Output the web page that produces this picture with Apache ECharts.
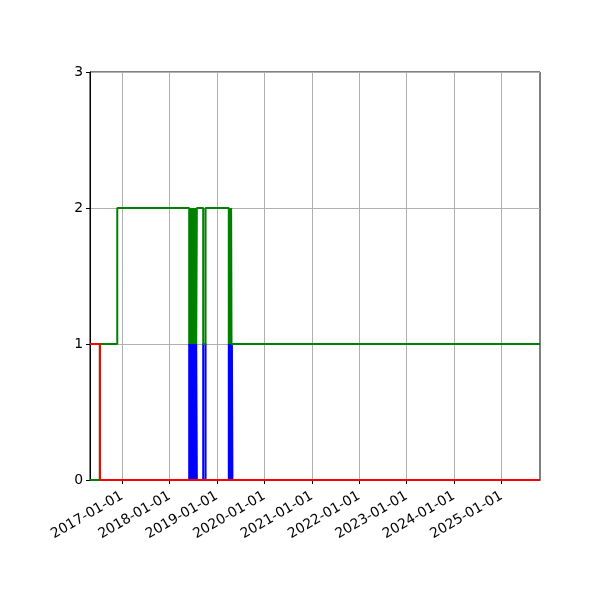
<!DOCTYPE html>
<html>
<head>
<meta charset="utf-8">
<script src="https://cdn.jsdelivr.net/npm/echarts@6/dist/echarts.min.js"></script>
<style>
  html, body { margin: 0; padding: 0; background: #fff; }
  #chart { width: 600px; height: 600px; }
</style>
</head>
<body>
<div id="chart"></div>
<script>
// x range and tick dates
const xStart = "2016-04-29";
const xEnd = "2025-10-25";
const tickDates = ["2017-01-01", "2018-01-01", "2019-01-01", "2020-01-01", "2021-01-01",
  "2022-01-01", "2023-01-01", "2024-01-01", "2025-01-01"];
const yTicks = [0, 1, 2, 3];

// step series: [date, value], value holds until next date
const redSteps = [
  ["2016-04-29", 1], ["2016-07-14", 0], ["2025-10-25", 0]
];
const blueSteps = [
  ["2016-04-29", 0],
  ["2018-06-02", 1], ["2018-06-05", 0], ["2018-06-08", 1], ["2018-06-11", 0],
  ["2018-06-14", 1], ["2018-06-17", 0], ["2018-06-20", 1], ["2018-06-23", 0],
  ["2018-06-26", 1], ["2018-06-29", 0], ["2018-07-02", 1], ["2018-07-05", 0],
  ["2018-07-08", 1], ["2018-07-11", 0], ["2018-07-14", 1], ["2018-07-17", 0],
  ["2018-07-20", 1], ["2018-07-23", 0], ["2018-07-26", 1], ["2018-07-31", 0],
  ["2018-09-18", 1], ["2018-10-06", 0],
  ["2019-04-03", 1], ["2019-04-07", 0], ["2019-04-11", 1], ["2019-04-15", 0],
  ["2019-04-19", 1], ["2019-04-23", 0], ["2019-04-27", 1], ["2019-05-01", 0],
  ["2025-10-25", 0]
];
const greenSteps = [
  ["2016-04-29", 0], ["2016-07-14", 1], ["2016-11-25", 2],
  ["2018-06-02", 1], ["2018-06-05", 2], ["2018-06-08", 1], ["2018-06-11", 2],
  ["2018-06-14", 1], ["2018-06-17", 2], ["2018-06-20", 1], ["2018-06-23", 2],
  ["2018-06-26", 1], ["2018-06-29", 2], ["2018-07-02", 1], ["2018-07-05", 2],
  ["2018-07-08", 1], ["2018-07-11", 2], ["2018-07-14", 1], ["2018-07-17", 2],
  ["2018-07-20", 1], ["2018-07-23", 2], ["2018-07-26", 1], ["2018-07-31", 2],
  ["2018-09-18", 1], ["2018-10-06", 2],
  ["2019-04-03", 1], ["2019-04-07", 2], ["2019-04-11", 1], ["2019-04-15", 2],
  ["2019-04-19", 1], ["2019-04-21", 2], ["2019-04-24", 1],
  ["2025-10-25", 1]
];

const ts = (d) => Date.parse(d + "T00:00:00Z");
const toData = (steps) => steps.map(([d, v]) => [ts(d), v]);

const pad = (n) => (n < 10 ? "0" : "") + n;
const fmtDate = (v) => {
  const d = new Date(v);
  return d.getUTCFullYear() + "-" + pad(d.getUTCMonth() + 1) + "-" + pad(d.getUTCDate());
};

const chart = echarts.init(document.getElementById("chart"), null, { renderer: "canvas" });

const lineSeries = (name, steps, color) => ({
  name: name,
  type: "line",
  step: "end",
  data: toData(steps),
  showSymbol: false,
  animation: false,
  lineStyle: { color: color, width: 2 },
  itemStyle: { color: color },
});

const font = "DejaVu Sans";

chart.setOption({
  animation: false,
  grid: {
    left: 90, right: 60, top: 72, bottom: 120,
    show: true, borderColor: "#000", borderWidth: 1,
  },
  xAxis: {
    type: "value",
    min: ts(xStart),
    max: ts(xEnd),
    axisLine: { show: true, onZero: false, lineStyle: { color: "#000", width: 1 } },
    axisTick: {
      show: true, length: 4, inside: false,
      customValues: tickDates.map(ts),
      lineStyle: { color: "#000", width: 1 },
    },
    axisLabel: {
      customValues: tickDates.map(ts),
      formatter: fmtDate,
      rotate: 30,
      verticalAlign: "top",
      padding: [0, 4, 0, 0],
      color: "#000",
      fontFamily: font,
      fontSize: 13.9,
      margin: 7,
    },
    splitLine: { show: true, lineStyle: { color: "#b0b0b0", width: 1 } },
  },
  yAxis: {
    type: "value",
    min: yTicks[0],
    max: yTicks[yTicks.length - 1],
    interval: 1,
    axisLine: { show: true, lineStyle: { color: "#000", width: 1 } },
    axisTick: { show: true, length: 4, lineStyle: { color: "#000", width: 1 } },
    axisLabel: { color: "#000", fontFamily: font, fontSize: 13.9, margin: 7 },
    splitLine: { show: true, lineStyle: { color: "#b0b0b0", width: 1 } },
  },
  series: [
    lineSeries("blue", blueSteps, "#0000ff"),
    lineSeries("green", greenSteps, "#008000"),
    lineSeries("red", redSteps, "#ff0000"),
  ],
});
</script>
</body>
</html>
